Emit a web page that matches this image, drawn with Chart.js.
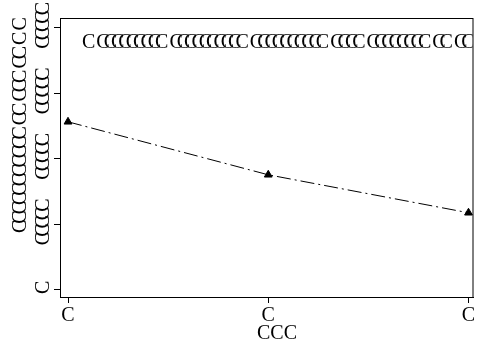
<!DOCTYPE html>
<html>
<head>
<meta charset="utf-8">
<script src="https://cdn.jsdelivr.net/npm/chart.js@4"></script>
<style>
  html, body { margin: 0; padding: 0; background: #fff; }
  #wrap { width: 479px; height: 344px; }
</style>
</head>
<body>
<div id="wrap"><canvas id="chart"></canvas></div>
<script>
const xValues = [0, 1, 2];
const xTickLabels = ["C", "C", "C"];
const yValues = [2.565, 1.756, 1.176];
const yTickValues = [0, 1, 2, 3, 4];
const yTickLabels = ["C", "CCCCC", "CCCCC", "CCCCC", "CCCCC"];
const innerText = "C CCCCCCCCC CCCCCCCCCC CCCCCCCCCC CCCC CCCCCCCC CC CC";
const xTitle = "CCC";
const yTitle = "CCCCCCCCCCC CC CCC CC C C";

const serif = "'Liberation Serif', 'Times New Roman', serif";

// draws squeezed words one after another with a fixed gap between them
function drawWords(ctx, text, x, y, gap) {
    text.split(" ").forEach(w => {
        ctx.fillText(w, x, y);
        x += ctx.measureText(w).width + gap;
    });
}

const textPlugin = {
    id: "texts",
    afterDraw(chart) {
        const ctx = chart.ctx;
        const area = chart.chartArea;
        const xs = chart.scales.x;
        const ys = chart.scales.y;

        ctx.save();

        // frame around plot
        ctx.strokeStyle = "#000";
        ctx.lineWidth = 1;
        ctx.strokeRect(area.left + 0.5, area.top + 0.5, area.right - area.left - 1, area.bottom - area.top);

        ctx.fillStyle = "#000";

        // text inside the plot
        ctx.font = "20px " + serif;
        ctx.letterSpacing = "-6px";
        ctx.textAlign = "left";
        ctx.textBaseline = "middle";
        ctx.save();
        ctx.beginPath();
        ctx.rect(area.left, area.top, area.right - area.left - 1, area.bottom - area.top);
        ctx.clip();
        drawWords(ctx, innerText, 82, 43, 7);
        ctx.restore();

        // x tick labels
        ctx.letterSpacing = "0px";
        ctx.textAlign = "center";
        xValues.forEach((v, i) => {
            ctx.fillText(xTickLabels[i], xs.getPixelForValue(v), 316);
        });

        // x title
        ctx.fillText(xTitle, 277, 334);

        // y tick labels, rotated
        ctx.letterSpacing = "-5px";
        yTickValues.forEach((v, i) => {
            ctx.save();
            ctx.translate(44, ys.getPixelForValue(v));
            ctx.rotate(-Math.PI / 2);
            ctx.fillText(yTickLabels[i], 0, 0);
            ctx.restore();
        });

        // y title, bottom to top
        ctx.letterSpacing = "-4px";
        ctx.textAlign = "left";
        ctx.save();
        ctx.translate(21, 233);
        ctx.rotate(-Math.PI / 2);
        drawWords(ctx, yTitle, 0, 0, 5);
        ctx.restore();

        ctx.restore();
    }
};

new Chart(document.getElementById("chart"), {
    type: "line",
    data: {
        datasets: [{
            data: xValues.map((x, i) => ({ x: x, y: yValues[i] })),
            borderColor: "#000",
            backgroundColor: "#000",
            borderWidth: 1,
            borderDash: [14, 4, 2, 4],
            pointStyle: "triangle",
            pointRadius: 4.5,
            pointBackgroundColor: "#000",
            pointBorderColor: "#000",
            tension: 0
        }]
    },
    options: {
        responsive: true,
        maintainAspectRatio: false,
        animation: false,
        devicePixelRatio: 1,
        layout: { padding: { top: 18, right: 5, left: 0, bottom: 0 } },
        plugins: {
            legend: { display: false },
            tooltip: { enabled: false }
        },
        scales: {
            x: {
                type: "linear",
                min: -0.04,
                max: 2.025,
                afterBuildTicks: (s) => { s.ticks = xValues.map(v => ({ value: v })); },
                afterFit: (s) => { s.height = 47; },
                ticks: { display: false },
                grid: { drawOnChartArea: false, drawTicks: true, tickLength: 6, color: "#000" },
                border: { color: "#000", width: 1 }
            },
            y: {
                type: "linear",
                min: -0.11,
                max: 4.15,
                afterBuildTicks: (s) => { s.ticks = yTickValues.map(v => ({ value: v })); },
                afterFit: (s) => { s.width = 60; },
                ticks: { display: false },
                grid: { drawOnChartArea: false, drawTicks: true, tickLength: 6, color: "#000" },
                border: { color: "#000", width: 1 }
            }
        }
    },
    plugins: [textPlugin]
});
</script>
</body>
</html>
